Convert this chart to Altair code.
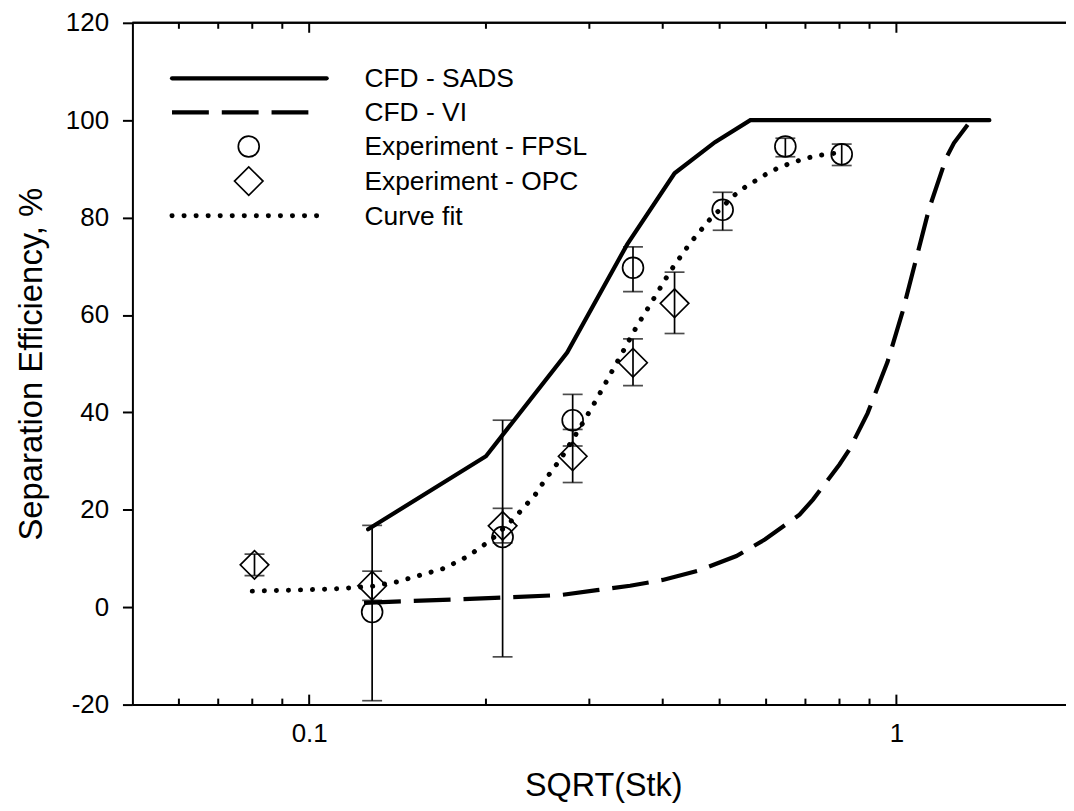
import altair as alt
import pandas as pd

# ---------------- data ----------------
# CFD - SADS (solid)
sads_x = [0.126, 0.2, 0.275, 0.348, 0.419, 0.491, 0.564, 1.44]
sads_y = [16.0, 31.0, 52.3, 74.5, 89.1, 95.5, 100.0, 100.0]

# CFD - VI (dashed)
vi_x = [0.124, 0.207, 0.268, 0.309, 0.352, 0.400, 0.460, 0.534, 0.597, 0.684,
        0.721, 0.800, 0.831, 0.893, 0.966, 1.024, 1.079, 1.136, 1.216, 1.253, 1.337]
vi_y = [0.9, 1.9, 2.5, 3.5, 4.4, 5.6, 7.5, 10.5, 13.9, 19.0,
        22.1, 29.3, 32.3, 39.8, 50.4, 60.6, 71.2, 81.7, 92.3, 95.3, 99.8]

# Experiment - FPSL (circles)
fpsl_x = [0.128, 0.2135, 0.281, 0.356, 0.506, 0.647, 0.807]
fpsl_y = [-1.0, 14.4, 38.4, 69.7, 81.6, 94.6, 93.0]
fpsl_lo = [-19.2, -10.2, 33.1, 64.8, 77.4, 92.5, 90.7]
fpsl_hi = [16.8, 38.4, 43.7, 74.0, 85.2, 96.3, 95.1]

# Experiment - OPC (diamonds)
opc_x = [0.0807, 0.128, 0.2135, 0.281, 0.356, 0.419]
opc_y = [8.7, 4.4, 16.7, 31.0, 50.2, 62.4]
opc_lo = [6.5, 1.4, 13.2, 25.6, 45.5, 56.2]
opc_hi = [10.9, 7.4, 20.3, 36.5, 55.1, 68.8]

# Curve fit (dotted)
fit_x = [0.080, 0.100, 0.112, 0.128, 0.141, 0.170, 0.186, 0.204, 0.224, 0.243,
         0.251, 0.269, 0.293, 0.309, 0.326, 0.343, 0.361, 0.382, 0.404, 0.417,
         0.445, 0.481, 0.504, 0.527, 0.553, 0.607, 0.637, 0.697, 0.732, 0.805]
fit_y = [3.3, 3.6, 3.8, 4.3, 5.2, 8.0, 10.4, 13.8, 18.4, 23.2,
         25.8, 30.7, 38.0, 42.8, 47.9, 52.7, 57.6, 62.4, 67.3, 69.9,
         74.7, 79.6, 82.0, 84.4, 86.3, 89.3, 90.5, 92.1, 92.7, 93.4]

legend_labels = ["CFD - SADS", "CFD - VI", "Experiment - FPSL", "Experiment - OPC", "Curve fit"]

x_major = [0.1, 1]
x_minor = [0.06, 0.07, 0.08, 0.09, 0.2, 0.3, 0.4, 0.5, 0.6, 0.7, 0.8, 0.9]
y_ticks = [-20, 0, 20, 40, 60, 80, 100, 120]

# ---------------- layout ----------------
W, H = 938, 685
FONT = "Liberation Sans"
X_DOMAIN = [0.05, 1.9446]
Y_DOMAIN = [-20, 120]

# legend placement (in data coordinates)
leg_rows_y = [108.6, 101.6, 94.6, 87.5, 80.4]
leg_x0 = [0.0584] * 5
leg_x1 = [0.1071, 0.1006, 0.1071, 0.1071, 0.1071]
leg_xm, leg_xt = 0.0789, 0.1242

xs = alt.Scale(type="log", domain=X_DOMAIN, nice=False)
ys = alt.Scale(domain=Y_DOMAIN, nice=False, zero=False)

x_axis = alt.Axis(
    values=x_major, format="~g", ticks=False, grid=False,
    labelFont=FONT, labelFontSize=26, labelColor="black",
    labelPadding=37, labelBaseline="alphabetic",
    domainColor="black", domainWidth=2,
    title="SQRT(Stk)", titleFont=FONT, titleFontSize=32.5, titleFontWeight="normal",
    titleColor="black", titleX=473, titleY=91, titleBaseline="alphabetic",
)
y_axis = alt.Axis(
    values=y_ticks, grid=False, tickSize=10, tickWidth=2, tickColor="black",
    labelFont=FONT, labelFontSize=26, labelColor="black", labelPadding=14,
    labelExpr="'' + datum.value",
    domainColor="black", domainWidth=2,
    title="Separation Efficiency, %", titleFont=FONT, titleFontSize=33,
    titleFontWeight="normal", titleColor="black", titleAngle=270,
    titleX=-91, titleY=H / 2, titleBaseline="alphabetic", titleAlign="center",
)

sads_df = pd.DataFrame({"x": sads_x, "y": sads_y})
vi_df = pd.DataFrame({"x": vi_x, "y": vi_y})
fit_df = pd.DataFrame({"x": fit_x, "y": fit_y})
fpsl_df = pd.DataFrame({"x": fpsl_x, "y": fpsl_y, "lo": fpsl_lo, "hi": fpsl_hi})
opc_df = pd.DataFrame({"x": opc_x, "y": opc_y, "lo": opc_lo, "hi": opc_hi})
err_df = pd.concat([fpsl_df, opc_df], ignore_index=True)

base_x = alt.X("x:Q", scale=xs, axis=x_axis, title="SQRT(Stk)")
base_y = alt.Y("y:Q", scale=ys, axis=y_axis, title="Separation Efficiency, %")

vi_line = alt.Chart(vi_df).mark_line(
    color="black", strokeWidth=4.2, strokeDash=[37, 13], clip=True
).encode(x=base_x, y=base_y, order="x:Q")

sads_line = alt.Chart(sads_df).mark_line(
    color="black", strokeWidth=4.2, strokeCap="round", clip=True
).encode(x=alt.X("x:Q", scale=xs), y=alt.Y("y:Q", scale=ys), order="x:Q")

fit_line = alt.Chart(fit_df).mark_line(
    color="black", strokeWidth=5, strokeDash=[0.1, 12], strokeCap="round", clip=True
).encode(x=alt.X("x:Q", scale=xs), y=alt.Y("y:Q", scale=ys), order="x:Q")

err_rules = alt.Chart(err_df).mark_rule(color="black", strokeWidth=1.7).encode(
    x=alt.X("x:Q", scale=xs), y=alt.Y("lo:Q", scale=ys), y2="hi:Q"
)
cap_lo = alt.Chart(err_df).mark_tick(
    orient="horizontal", color="black", size=20, thickness=1.7
).encode(x=alt.X("x:Q", scale=xs), y=alt.Y("lo:Q", scale=ys))
cap_hi = alt.Chart(err_df).mark_tick(
    orient="horizontal", color="black", size=20, thickness=1.7
).encode(x=alt.X("x:Q", scale=xs), y=alt.Y("hi:Q", scale=ys))

circles = alt.Chart(fpsl_df).mark_point(
    shape="circle", filled=False, size=440, color="black", strokeWidth=1.7, opacity=1
).encode(x=alt.X("x:Q", scale=xs), y=alt.Y("y:Q", scale=ys))

diamonds = alt.Chart(opc_df).mark_point(
    shape="diamond", filled=False, size=820, color="black", strokeWidth=1.7, opacity=1
).encode(x=alt.X("x:Q", scale=xs), y=alt.Y("y:Q", scale=ys))

# ---------------- legend ----------------
leg_df = pd.DataFrame({
    "label": legend_labels,
    "y": leg_rows_y,
    "x0": leg_x0,
    "x1": leg_x1,
    "xm": [leg_xm] * 5,
    "xt": [leg_xt] * 5,
})

leg_text = alt.Chart(leg_df).mark_text(
    align="left", baseline="alphabetic", dy=9, font=FONT, fontSize=26.5, color="black"
).encode(x=alt.X("xt:Q", scale=xs), y=alt.Y("y:Q", scale=ys), text="label:N")

leg_sads = alt.Chart(leg_df).transform_filter(
    alt.datum.label == "CFD - SADS"
).mark_rule(color="black", strokeWidth=4.2, strokeCap="round").encode(
    x=alt.X("x0:Q", scale=xs), x2="x1:Q", y=alt.Y("y:Q", scale=ys)
)
leg_vi = alt.Chart(leg_df).transform_filter(
    alt.datum.label == "CFD - VI"
).mark_rule(color="black", strokeWidth=4.2, strokeDash=[37, 13]).encode(
    x=alt.X("x0:Q", scale=xs), x2="x1:Q", y=alt.Y("y:Q", scale=ys)
)
leg_fit = alt.Chart(leg_df).transform_filter(
    alt.datum.label == "Curve fit"
).mark_rule(color="black", strokeWidth=5, strokeDash=[0.1, 12], strokeCap="round").encode(
    x=alt.X("x0:Q", scale=xs), x2="x1:Q", y=alt.Y("y:Q", scale=ys)
)
leg_circle = alt.Chart(leg_df).transform_filter(
    alt.datum.label == "Experiment - FPSL"
).mark_point(shape="circle", filled=False, size=440, color="black",
             strokeWidth=1.7, opacity=1).encode(
    x=alt.X("xm:Q", scale=xs), y=alt.Y("y:Q", scale=ys)
)
leg_diamond = alt.Chart(leg_df).transform_filter(
    alt.datum.label == "Experiment - OPC"
).mark_point(shape="diamond", filled=False, size=820, color="black",
             strokeWidth=1.7, opacity=1).encode(
    x=alt.X("xm:Q", scale=xs), y=alt.Y("y:Q", scale=ys)
)

# ---------------- inward x ticks (bottom and top) + top frame ----------------
maj_df = pd.DataFrame({"x": x_major})
min_df = pd.DataFrame({"x": x_minor})

def tick_layer(df, y0, y1):
    return alt.Chart(df).mark_rule(color="black", strokeWidth=2).encode(
        x=alt.X("x:Q", scale=xs), y=alt.value(y0), y2=alt.value(y1)
    )

ticks = [
    tick_layer(maj_df, H, H - 10),
    tick_layer(min_df, H, H - 6),
    tick_layer(maj_df, 0, 10),
    tick_layer(min_df, 0, 6),
]

top_frame = alt.Chart(maj_df).mark_rule(color="black", strokeWidth=2).encode(
    x=alt.value(0), x2=alt.value(W), y=alt.value(0)
)

chart = alt.layer(
    vi_line, sads_line, fit_line, err_rules, cap_lo, cap_hi, circles, diamonds,
    leg_sads, leg_vi, leg_fit, leg_circle, leg_diamond, leg_text,
    *ticks, top_frame,
).properties(
    width=W, height=H,
    padding={"left": 125, "top": 13, "right": 0, "bottom": 98},
    autosize=alt.AutoSizeParams(type="none"),
    background="white",
).configure_view(stroke=None)

chart.save("out.html", embed_options={"renderer": "svg", "actions": False})
